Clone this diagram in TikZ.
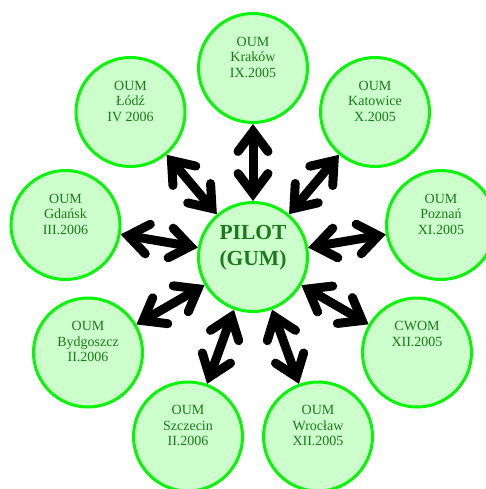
\documentclass[tikz,border=0pt]{standalone}
\usepackage{fontspec}
\setmainfont{Liberation Serif}
\usetikzlibrary{arrows.meta}
\definecolor{cfill}{RGB}{204,255,204}
\definecolor{cdraw}{RGB}{8,245,8}
\definecolor{ctext}{RGB}{28,120,28}
\begin{document}
\begin{tikzpicture}[x=1pt,y=-1pt,
  circ/.style={circle,draw=cdraw,fill=cfill,line width=3pt,minimum size=109pt,inner sep=0pt},
  otxt/.style={text=ctext,font=\fontsize{14}{15.5}\selectfont,align=center,yshift=11pt},
  otxttwo/.style={otxt,yshift=7.5pt},
  ptxt/.style={text=ctext,font=\fontsize{21.5}{26}\selectfont\bfseries,align=center,yshift=9pt},
  barb/.style={Straight Barb[length=20pt,width=30pt,line cap=round,line join=miter]},
  link/.style={line width=9pt,{Straight Barb[length=20pt,width=30pt,line cap=round,line join=miter]}-{Straight Barb[length=20pt,width=30pt,line cap=round,line join=miter]}}
]
\useasboundingbox (0,0) rectangle (486,489);
\node[circ,label={[ptxt]center:{PILOT\\(GUM)}}] (p) at (253,257) {};
\node[circ,label={[otxt]center:{OUM\\Kraków\\IX.2005}}] (kr) at (253,68) {};
\node[circ,label={[otxt]center:{OUM\\Katowice\\X.2005}}] (ka) at (375,112) {};
\node[circ,label={[otxt]center:{OUM\\Poznań\\XI.2005}}] (po) at (441,225) {};
\node[circ,label={[otxttwo]center:{CWOM\\XII.2005}}] (cw) at (417,352.5) {};
\node[circ,label={[otxt]center:{OUM\\Wrocław\\XII.2005}}] (wr) at (318,436.5) {};
\node[circ,label={[otxt]center:{OUM\\Szczecin\\II.2006}}] (sz) at (188,436.5) {};
\node[circ,label={[otxt]center:{OUM\\Bydgoszcz\\II.2006}}] (by) at (88,352.5) {};
\node[circ,label={[otxt]center:{OUM\\Gdańsk\\III.2006}}] (gd) at (65.5,225) {};
\node[circ,label={[otxt]center:{OUM\\Łódź\\IV 2006}}] (lo) at (130.5,112) {};
\foreach \n in {kr,ka,po,cw,wr,sz,by,gd,lo}
  \draw[link] (p) -- (\n);
\end{tikzpicture}
\end{document}
